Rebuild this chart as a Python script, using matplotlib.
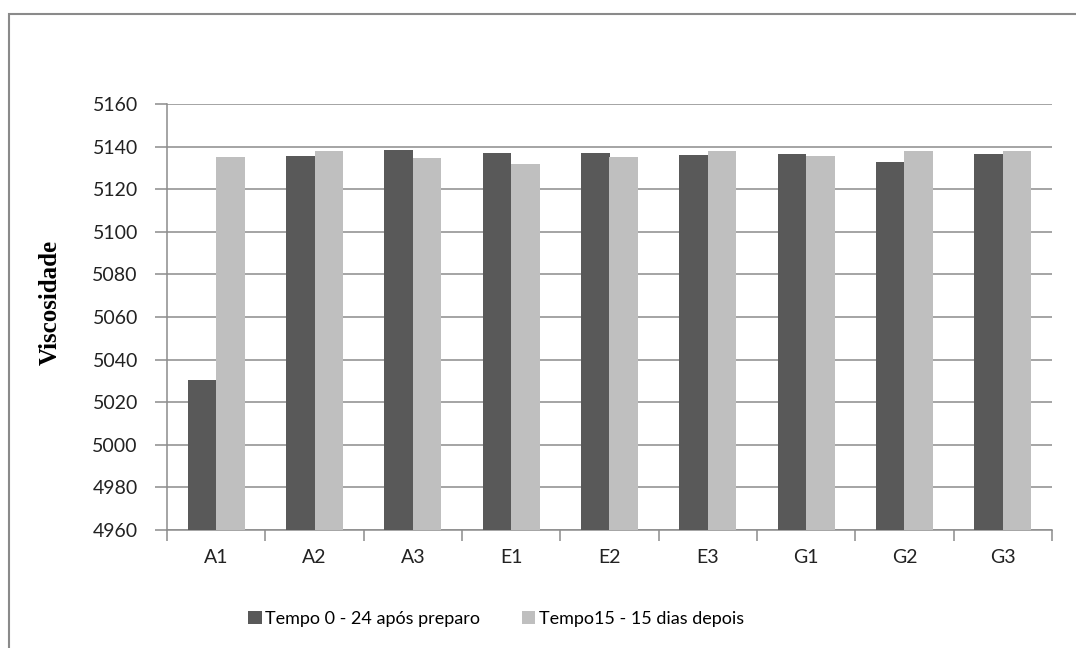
import matplotlib
matplotlib.use("Agg")
import matplotlib.pyplot as plt
import numpy as np
from matplotlib.patches import Rectangle

categories = ["A1", "A2", "A3", "E1", "E2", "E3", "G1", "G2", "G3"]
tempo0 = [5030.5, 5135.5, 5138.2, 5137.2, 5137.0, 5136.1, 5136.6, 5133.0, 5136.6]
tempo15 = [5135.0, 5137.7, 5134.5, 5131.9, 5135.0, 5137.7, 5135.5, 5137.7, 5137.7]
series_names = ["Tempo 0 - 24 após preparo", "Tempo15 - 15 dias depois"]
y_ticks = list(range(4960, 5161, 20))

W, H = 1076, 648
fig = plt.figure(figsize=(W / 100, H / 100), dpi=100)
fig.patch.set_facecolor("white")

# chart-area frame
fig.patches.append(Rectangle((9 / W, -0.05), 1.2, 1 - 14 / H + 0.05,
                             transform=fig.transFigure, fill=False,
                             edgecolor="#8a8a8a", linewidth=1.5))

ax = fig.add_axes([167 / W, 1 - 530 / H, (1052 - 167) / W, (530 - 104) / H])

x = np.arange(len(categories))
bw = 0.29
dark, light = "#595959", "#bfbfbf"
ax.bar(x - bw / 2, np.array(tempo0) - 4960, bw, bottom=4960, color=dark,
       label=series_names[0], zorder=3)
ax.bar(x + bw / 2, np.array(tempo15) - 4960, bw, bottom=4960, color=light,
       label=series_names[1], zorder=3)

ax.set_xlim(-0.5, len(categories) - 0.5)
ax.set_ylim(4960, 5160)
ax.set_yticks(y_ticks)
ax.yaxis.grid(True, color="#8c8c8c", linewidth=1.1, zorder=0)
ax.set_axisbelow(True)

font = "Lato"
ax.set_yticklabels([str(v) for v in y_ticks], fontsize=14, fontfamily=font,
                   color="#222222")
ax.set_xticks(x)
ax.set_xticklabels(categories, fontsize=14, fontfamily=font, color="#222222")
ax.set_xticks(np.arange(-0.5, len(categories)), minor=True)
ax.tick_params(axis="x", which="major", length=0, pad=14)
ax.tick_params(axis="x", which="minor", length=8, color="#8c8c8c", width=1.1)
ax.tick_params(axis="y", length=9, color="#8c8c8c", width=1.1, pad=12)

for side in ("top", "right"):
    ax.spines[side].set_visible(False)
for side in ("left", "bottom"):
    ax.spines[side].set_color("#8c8c8c")
    ax.spines[side].set_linewidth(1.1)

fig.text(50 / W, 1 - 302 / H, "Viscosidade", rotation=90, ha="center",
         va="center", fontsize=18, fontweight="bold",
         fontfamily="Liberation Serif")

leg = fig.legend(loc="center", bbox_to_anchor=(496 / W, 1 - 619 / H), ncol=2,
                 frameon=False, prop={"family": font, "size": 13},
                 handlelength=0.75, handleheight=0.75, handletextpad=0.2,
                 columnspacing=2.3)

fig.savefig("out.png", dpi=100, facecolor="white")
